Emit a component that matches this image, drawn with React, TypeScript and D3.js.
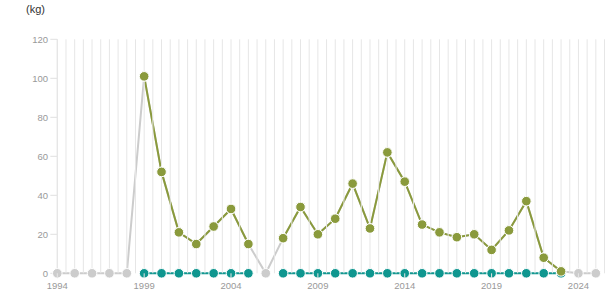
import React from "react";
import * as d3 from "d3";

const years: number[] = d3.range(1994, 2026);
// total (grey background series)
const totalValues: number[] = [0, 0, 0, 0, 0, 101, 52, 21, 15, 24, 33, 15, 0, 18, 34, 20, 28, 46, 23, 62, 47, 25, 21, 18.5, 20, 12, 22, 37, 8, 1, 0, 0];
const oliveValues: (number | null)[] = [null, null, null, null, null, 101, 52, 21, 15, 24, 33, 15, null, 18, 34, 20, 28, 46, 23, 62, 47, 25, 21, 18.5, 20, 12, 22, 37, 8, 1, null, null];
const tealValues: (number | null)[] = [null, null, null, null, null, 0, 0, 0, 0, 0, 0, 0, null, 0, 0, 0, 0, 0, 0, 0, 0, 0, 0, 0, 0, 0, 0, 0, 0, 0, null, null];
const yTicks: number[] = [0, 20, 40, 60, 80, 100, 120];
const xTickYears: number[] = [1994, 1999, 2004, 2009, 2014, 2019, 2024];

const W = 615, H = 305;
const left = 57.3, right = 604.5, top = 39.3, bottom = 273.3;

export default function App() {
  const x = d3.scaleLinear().domain([1994, 2025.5]).range([left, right]);
  const y = d3.scaleLinear().domain([0, 120]).range([bottom, top]);
  const gridYears = d3.range(1994, 2025.51, 0.5);

  type P = { year: number; v: number | null };
  const mk = (vals: (number | null)[]): P[] => years.map((yr, i) => ({ year: yr, v: vals[i] }));
  const line = d3.line<P>().defined(d => d.v !== null).x(d => x(d.year)).y(d => y(d.v as number));

  const grey = mk(totalValues);
  const teal = mk(tealValues);
  const olive = mk(oliveValues);

  const cGrey = "#cccccc", cTeal = "#0f968f", cOlive = "#8a9a3c";
  const font = "'Liberation Sans', Arial, sans-serif";

  const markers = (data: P[], color: string, key: string) =>
    data.filter(d => d.v !== null).map(d => (
      <circle key={key + d.year} cx={x(d.year)} cy={y(d.v as number)} r={4.8} fill={color} stroke="#ffffff" strokeWidth={1} />
    ));

  return (
    <svg width={W} height={H} style={{ position: "absolute", left: 0, top: 0 }} fontFamily={font}>
      <rect width={W} height={H} fill="#ffffff" />
      <text x={26} y={13} fontSize={11} fill="#333333">(kg)</text>
      {/* y axis */}
      <line x1={left} x2={left} y1={top} y2={bottom} stroke="#e0e0e0" strokeWidth={1} />
      {yTicks.map(t => (
        <g key={"yt" + t}>
          <line x1={left - 7} x2={left} y1={y(t)} y2={y(t)} stroke="#e0e0e0" strokeWidth={1} />
          <text x={48} y={y(t) + 3.3} fontSize={9.5} fill="#999999" textAnchor="end">{t}</text>
        </g>
      ))}
      {/* series lines */}
      <path d={line(grey) || ""} fill="none" stroke={cGrey} strokeWidth={2} />
      <path d={line(teal) || ""} fill="none" stroke={cTeal} strokeWidth={2} />
      <path d={line(olive) || ""} fill="none" stroke={cOlive} strokeWidth={2} />
      {/* vertical gridlines */}
      {gridYears.map(g => (
        <line key={"g" + g} x1={x(g)} x2={x(g)} y1={top} y2={bottom} stroke="#e6e6e6" strokeWidth={1} />
      ))}
      {markers(grey, cGrey, "gm")}
      {markers(teal, cTeal, "tm")}
      {markers(olive, cOlive, "om")}
      {/* x ticks */}
      {xTickYears.map(t => (
        <g key={"xt" + t}>
          <line x1={x(t)} x2={x(t)} y1={bottom} y2={bottom + 5} stroke="#e6e6e6" strokeWidth={1} />
          <text x={x(t)} y={289} fontSize={9.5} fill="#999999" textAnchor="middle">{t}</text>
        </g>
      ))}
    </svg>
  );
}
